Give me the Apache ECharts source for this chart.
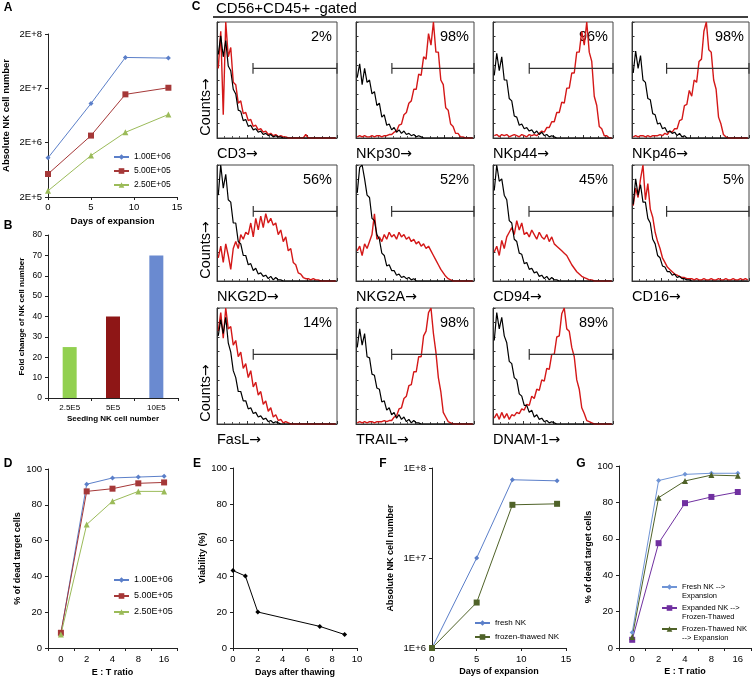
<!DOCTYPE html>
<html><head><meta charset="utf-8">
<script src="https://cdn.jsdelivr.net/npm/echarts@6/dist/echarts.min.js"></script>
<style>html,body{margin:0;padding:0;background:#fff}#c{width:752px;height:681px}</style>
</head><body><div id="c"></div>
<script>
// ---------- Panel A ----------
const daysA = [0, 5, 9, 14];
const a_1e6 = [1.05e6, 1.05e7, 7.4e7, 7.2e7];
const a_5e5 = [5.3e5, 2.7e6, 1.55e7, 2.05e7];
const a_25e5 = [2.6e5, 1.16e6, 3.1e6, 6.6e6];
const seedNames = ['1.00E+06', '5.00E+05', '2.50E+05'];
// ---------- Panel B ----------
const seedLabels = ['2.5E5', '5E5', '10E5'];
const foldChange = [25, 40, 70];
// ---------- Panel D ----------
const etLabels = ['0', '2', '4', '8', '16'];
const d_1e6 = [8, 91.5, 95, 95.5, 96];
const d_5e5 = [8.5, 87.5, 89, 92, 92.5];
const d_25e5 = [7.5, 69, 82, 87.5, 87.5];
// ---------- Panel E ----------
const daysE = [0, 1, 2, 7, 9];
const viability = [43, 40, 20, 12, 7.5];
// ---------- Panel F ----------
const daysF = [0, 5, 9, 14];
const f_fresh = [1e6, 1e7, 7.4e7, 7.2e7];
const f_frozen = [1e6, 3.2e6, 3.9e7, 4.0e7];
// ---------- Panel G ----------
const g_fresh = [8.5, 92, 95.4, 96, 96];
const g_expFrozen = [4.5, 57.6, 79.6, 83, 85.7];
const g_frozenExp = [6, 82.6, 91.8, 95, 94.6];
const gNames = ['Fresh NK -->\nExpansion', 'Expanded NK -->\nFrozen-Thawed', 'Frozen-Thawed NK\n--> Expansion'];
// ---------- Panel C histograms (48 log-channel bins, % of max) ----------
const markerNames = ['CD3', 'NKp30', 'NKp44', 'NKp46', 'NKG2D', 'NKG2A', 'CD94', 'CD16', 'FasL', 'TRAIL', 'DNAM-1'];
const markerPct = ['2%', '98%', '96%', '98%', '56%', '52%', '45%', '5%', '14%', '98%', '89%'];
const gateStart = [14.4, 14.6, 14.5, 14.2, 14.5, 14.5, 14.4, 14.2, 14.5, 14.5, 14.5];
const gateLevel = 60;
const iso_CD3 = [72,88,70,84,62,58,42,38,24,23,15,16, 10,11,7,8,5,6,3,4,2,3,1,2, 1,1,0,0,0,0,0,0,0,0,0,0, 0,0,0,0,0,0,0,0,0,0,0,0];
const stain_CD3 = [60,92,20,100,70,78,48,46,30,32,21,22, 15,16,10,11,7,8,5,6,3,4,2,3, 1,2,1,1,0,0,0,0,0,0,0,3, 0,0,0,0,0,0,0,0,0,0,0,0];
const iso_NKp30 = [52,64,46,60,48,50,38,40,28,30,18,20, 11,12,7,9,5,7,4,6,3,4,2,3, 1,2,1,0,0,0,0,0,0,0,0,0, 0,0,0,0,0,0,0,0,0,0,0,0];
const stain_NKp30 = [1,2,1,2,1,1,2,1,2,2,1,2, 2,3,3,5,6,11,12,20,22,30,32,42, 42,55,54,70,68,90,80,100,74,74,50,46, 26,24,12,10,4,4,1,1,0,0,0,0];
const iso_NKp44 = [54,73,58,70,50,50,34,32,19,18,11,12, 8,9,6,7,4,6,3,5,2,3,1,2, 1,0,0,0,0,0,0,0,0,0,0,0, 0,0,0,0,0,0,0,0,0,0,0,0];
const stain_NKp44 = [2,3,1,3,2,3,1,2,3,2,1,3, 2,1,3,2,3,2,4,6,5,9,9,14, 14,22,22,31,30,43,43,56,56,74,74,92, 80,100,74,66,36,28,10,8,2,2,0,0];
const iso_NKp46 = [56,75,60,71,50,48,34,33,21,20,12,13, 8,9,5,6,4,5,2,4,1,2,0,0, 0,0,0,0,0,0,0,0,0,0,0,0, 0,0,0,0,0,0,0,0,0,0,0,0];
const stain_NKp46 = [1,2,1,2,2,1,2,1,2,2,2,3, 2,4,3,6,5,8,8,15,16,28,29,41, 36,50,48,66,68,92,100,76,74,50,42,18, 12,3,1,0,0,0,0,0,0,0,0,0];
const iso_NKG2D = [74,100,80,92,70,68,50,50,34,32,22,22, 14,15,9,11,6,7,4,5,2,4,1,3, 1,1,0,0,0,0,0,0,0,0,0,0, 0,0,0,0,0,0,0,0,0,0,0,0];
const stain_NKG2D = [20,30,16,32,22,10,28,34,28,40,36,42, 40,50,38,54,44,56,46,58,50,54,48,50, 40,44,34,38,26,28,16,14,7,6,3,2, 2,1,2,1,1,0,0,0,0,0,0,0];
const iso_NKG2A = [76,98,100,88,74,72,54,52,40,36,24,22, 13,14,9,9,5,6,3,4,2,3,1,2, 0,0,0,0,0,0,0,0,0,0,0,0, 0,0,0,0,0,0,0,0,0,0,0,0];
const stain_NKG2A = [26,30,22,32,28,34,40,58,36,38,34,40, 36,42,38,40,36,42,38,40,36,38,34,36, 32,34,30,32,28,30,26,22,18,14,10,7, 4,2,1,0,0,0,0,0,0,0,0,0];
const iso_CD94 = [78,100,86,88,74,70,52,50,36,34,24,23, 15,16,10,11,7,8,4,5,2,4,1,3, 1,1,0,0,0,0,0,0,0,0,0,0, 0,0,0,0,0,0,0,0,0,0,0,0];
const stain_CD94 = [25,30,22,35,28,38,42,46,40,52,44,50, 40,42,38,44,40,36,42,38,36,40,34,38, 32,30,28,26,24,22,18,14,11,8,6,4, 3,2,1,1,0,0,0,0,0,0,0,0];
const iso_CD16 = [66,88,74,83,68,68,54,50,36,32,22,20, 13,12,8,8,5,6,3,4,2,2,1,1, 0,0,0,0,0,0,0,0,0,0,0,0, 0,0,0,0,0,0,0,0,0,0,0,0];
const stain_CD16 = [65,80,72,88,100,70,84,62,55,42,34,28, 20,16,12,10,8,6,5,4,3,3,2,2, 2,1,2,1,1,2,1,1,2,1,1,2, 1,1,2,1,1,2,1,1,2,1,2,1];
const iso_FasL = [76,90,78,92,70,62,46,40,28,28,20,20, 13,14,9,10,6,7,4,5,2,3,1,2, 1,0,0,0,0,0,0,0,0,0,0,0, 0,0,0,0,0,0,0,0,0,0,0,0];
const stain_FasL = [80,96,74,100,82,84,68,72,58,62,48,52, 40,46,32,36,25,28,17,20,11,14,6,8, 3,4,1,2,1,0,0,0,0,0,0,0, 0,0,0,0,0,0,0,0,0,0,0,0];
const iso_TRAIL = [66,82,68,78,58,57,43,42,31,30,19,20, 12,14,8,10,5,8,4,6,2,4,1,3, 1,1,0,0,0,0,0,0,0,0,0,0, 0,0,0,0,0,0,0,0,0,0,0,0];
const stain_TRAIL = [1,2,1,2,1,2,2,1,2,2,2,3, 2,3,3,6,7,13,14,22,24,33,34,45, 45,58,58,76,80,96,100,78,62,40,28,10, 6,2,1,0,0,0,0,0,0,0,0,0];
const iso_DNAM1 = [72,96,82,92,76,70,54,52,40,38,26,24, 16,16,10,12,6,8,4,5,2,3,1,2, 1,0,0,0,0,0,0,0,0,0,0,0, 0,0,0,0,0,0,0,0,0,0,0,0];
const stain_DNAM1 = [5,9,4,10,5,9,4,8,7,10,9,13, 12,17,16,24,22,30,29,38,37,48,47,60, 60,75,76,95,100,82,80,66,58,38,30,14, 9,3,2,1,0,0,0,0,0,0,0,0];
const isoList = [iso_CD3, iso_NKp30, iso_NKp44, iso_NKp46, iso_NKG2D, iso_NKG2A, iso_CD94, iso_CD16, iso_FasL, iso_TRAIL, iso_DNAM1];
const stainList = [stain_CD3, stain_NKp30, stain_NKp44, stain_NKp46, stain_NKG2D, stain_NKG2A, stain_CD94, stain_CD16, stain_FasL, stain_TRAIL, stain_DNAM1];

// ---------- build ----------
const FF = '"Liberation Sans", Arial, Helvetica, sans-serif';
const AX = '#222';
const C_BLUE = '#5B7FC9', C_RED = '#A53838', C_GREEN = '#9BBB59', C_OLIVE = '#4F6228', C_PURPLE = '#7030A0';
const grid = [], xAxis = [], yAxis = [], series = [], legend = [], graphic = [];

function isObj(o){ return o && typeof o === 'object' && !Array.isArray(o); }
function merge(a, b){ for (const k in b){ if (isObj(b[k]) && isObj(a[k])) merge(a[k], b[k]); else a[k] = b[k]; } return a; }
function axis(o){
  return merge({
    axisLine: {show: true, onZero: false, lineStyle: {color: AX, width: 1}},
    axisTick: {show: true, length: 3, lineStyle: {color: AX}},
    axisLabel: {show: true, fontSize: 9.5, color: '#000', fontFamily: FF},
    splitLine: {show: false},
    nameLocation: 'middle',
    nameTextStyle: {fontWeight: 'bold', fontSize: 9, color: '#000', fontFamily: FF}
  }, o);
}
function addGrid(g){ grid.push(g); return grid.length - 1; }
function line(g, name, data, color, symbol, size){
  return {type: 'line', name, xAxisIndex: g, yAxisIndex: g, data, symbol, symbolSize: size,
    showSymbol: true, lineStyle: {color, width: 1}, itemStyle: {color}, emphasis: {disabled: true}, silent: true};
}
function txt(x, y, text, font, align, vAlign, rot){
  const el = {type: 'text', x, y, silent: true, style: {text, fill: '#000', font, align: align || 'left', verticalAlign: vAlign || 'middle'}};
  if (rot) el.rotation = rot;
  graphic.push(el);
}
function arrowTxt(x, y, label, align, rot){
  const el = {type: 'text', x, y, silent: true, style: {
    text: '{a|' + label + '}{b|\u2192}', fill: '#000', align: align, verticalAlign: 'middle',
    rich: {a: {fontSize: 14.5, fontFamily: FF, fill: '#000'}, b: {fontSize: 14, fontFamily: '"DejaVu Sans", sans-serif', fill: '#000'}}}};
  if (rot) el.rotation = rot;
  graphic.push(el);
}
const log2e5 = v => Math.log10(v / 2e5);
const legBase = {orient: 'vertical', padding: 0, itemWidth: 15, itemHeight: 7, selectedMode: false};

// Panel A
const gA = addGrid({left: 48, top: 34, width: 129, height: 163});
xAxis.push(axis({gridIndex: gA, type: 'value', min: 0, max: 15, interval: 5, name: 'Days of expansion', nameGap: 19, nameTextStyle: {fontSize: 9.5}, axisLabel: {margin: 5}}));
yAxis.push(axis({gridIndex: gA, type: 'value', min: 0, max: 3, interval: 1, name: 'Absolute NK cell number', nameGap: 37, nameTextStyle: {fontSize: 9.5}, axisLabel: {margin: 6, formatter: v => '2E+' + (v + 5)}}));
series.push(line(gA, seedNames[0], daysA.map((d, i) => [d, log2e5(a_1e6[i])]), C_BLUE, 'diamond', 5));
series.push(line(gA, seedNames[1], daysA.map((d, i) => [d, log2e5(a_5e5[i])]), C_RED, 'rect', 6));
series.push(line(gA, seedNames[2], daysA.map((d, i) => [d, log2e5(a_25e5[i])]), C_GREEN, 'triangle', 6));
legend.push(merge({left: 113, top: 152, itemGap: 4, textStyle: {fontSize: 8.5, lineHeight: 10, color: '#000', fontFamily: FF}, data: seedNames}, legBase));

// Panel B
const gB = addGrid({left: 48, top: 235, width: 130, height: 163});
xAxis.push(axis({gridIndex: gB, type: 'category', data: seedLabels, name: 'Seeding NK cell number', nameGap: 17, nameTextStyle: {fontSize: 8}, axisLabel: {fontSize: 8, margin: 6}}));
yAxis.push(axis({gridIndex: gB, type: 'value', min: 0, max: 80, interval: 10, name: 'Fold change of NK cell number', nameGap: 22, nameTextStyle: {fontSize: 8}, axisLabel: {fontSize: 8.5, margin: 6}}));
const barColors = ['#92D050', '#8E1616', '#6A8AD0'];
series.push({type: 'bar', xAxisIndex: gB, yAxisIndex: gB, barWidth: 14, silent: true,
  data: foldChange.map((v, i) => ({value: v, itemStyle: {color: barColors[i]}}))});

// Panel D
const gD = addGrid({left: 48, top: 469, width: 129, height: 179});
xAxis.push(axis({gridIndex: gD, type: 'category', data: etLabels, name: 'E : T ratio', nameGap: 20, axisLabel: {margin: 6}}));
yAxis.push(axis({gridIndex: gD, type: 'value', min: 0, max: 100, interval: 20, name: '% of dead target cells', nameGap: 22, axisLabel: {margin: 6}}));
series.push(line(gD, seedNames[0], d_1e6, C_BLUE, 'diamond', 5));
series.push(line(gD, seedNames[1], d_5e5, C_RED, 'rect', 6));
series.push(line(gD, seedNames[2], d_25e5, C_GREEN, 'triangle', 6));
legend.push(merge({left: 113, top: 575, itemGap: 6, textStyle: {fontSize: 9, lineHeight: 10, color: '#000', fontFamily: FF}, data: seedNames}, legBase));

// Panel E
const gE = addGrid({left: 233, top: 468, width: 124, height: 180});
xAxis.push(axis({gridIndex: gE, type: 'value', min: 0, max: 10, interval: 2, name: 'Days after thawing', nameGap: 20, axisLabel: {margin: 6}}));
yAxis.push(axis({gridIndex: gE, type: 'value', min: 0, max: 100, interval: 20, name: 'Viability (%)', nameGap: 26, axisLabel: {margin: 6}}));
series.push(line(gE, 'viability', daysE.map((d, i) => [d, viability[i]]), '#000', 'diamond', 5));

// Panel F
const gF = addGrid({left: 432, top: 468, width: 134, height: 180});
xAxis.push(axis({gridIndex: gF, type: 'value', min: 0, max: 15, interval: 5, name: 'Days of expansion', nameGap: 19, axisLabel: {margin: 6}}));
yAxis.push(axis({gridIndex: gF, type: 'log', logBase: 10, min: 1e6, max: 1e8, name: 'Absolute NK cell number', nameGap: 37, axisLabel: {margin: 6, formatter: v => '1E+' + Math.round(Math.log10(v))}}));
series.push(line(gF, 'fresh NK', daysF.map((d, i) => [d, f_fresh[i]]), C_BLUE, 'diamond', 5));
series.push(line(gF, 'frozen-thawed NK', daysF.map((d, i) => [d, f_frozen[i]]), C_OLIVE, 'rect', 6));
legend.push(merge({left: 474, top: 618, itemWidth: 16, itemGap: 4, textStyle: {fontSize: 8, lineHeight: 10, color: '#000', fontFamily: FF}, data: ['fresh NK', 'frozen-thawed NK']}, legBase));

// Panel G
const gG = addGrid({left: 619, top: 466, width: 132, height: 182});
xAxis.push(axis({gridIndex: gG, type: 'category', data: etLabels, name: 'E : T ratio', nameGap: 19, axisLabel: {margin: 6}}));
yAxis.push(axis({gridIndex: gG, type: 'value', min: 0, max: 100, interval: 20, name: '% of dead target cells', nameGap: 24, axisLabel: {margin: 6}}));
series.push(line(gG, gNames[0], g_fresh, '#6F94D6', 'diamond', 5));
series.push(line(gG, gNames[1], g_expFrozen, C_PURPLE, 'rect', 6));
series.push(line(gG, gNames[2], g_frozenExp, C_OLIVE, 'triangle', 6));
const gLegTop = [573.5, 594.5, 615.5];
gNames.forEach((n, i) => legend.push(merge({left: 661, top: gLegTop[i], itemWidth: 13,
  formatter: nm => '\u00a0\n' + nm, textStyle: {fontSize: 7.5, lineHeight: 9, color: '#000', fontFamily: FF}, data: [n]}, legBase)));

// Panel C histograms
const colL = [217, 356, 493, 632], colW = [120, 118, 120, 117], rowT = [22, 165, 308], boxH = 116;
const F14 = '14.5px ' + FF;
markerNames.forEach((m, k) => {
  const r = Math.floor(k / 4), c = k % 4;
  const g = addGrid({left: colL[c], top: rowT[r], width: colW[c], height: boxH, show: true, borderColor: '#444', borderWidth: 1, backgroundColor: 'transparent'});
  xAxis.push({gridIndex: g, type: 'value', min: 0, max: 48, interval: 12,
    axisLine: {show: true, onZero: false, lineStyle: {color: '#333', width: 1}},
    axisTick: {show: true, inside: true, length: 3, lineStyle: {color: '#333'}},
    minorTick: {show: true, splitNumber: 4, length: 2, lineStyle: {color: '#555'}},
    axisLabel: {show: false}, splitLine: {show: false}});
  yAxis.push({gridIndex: g, type: 'value', min: 0, max: 100, interval: 12.5,
    axisLine: {show: true, onZero: false, lineStyle: {color: '#333', width: 1}},
    axisTick: {show: true, inside: true, length: 2.5, lineStyle: {color: '#333'}},
    axisLabel: {show: false}, splitLine: {show: false}});
  series.push({type: 'line', xAxisIndex: g, yAxisIndex: g, silent: true, symbol: 'none', z: 3,
    data: stainList[k].map((v, i) => [i + 0.5, v]), lineStyle: {color: '#D41818', width: 1.4}});
  series.push({type: 'line', xAxisIndex: g, yAxisIndex: g, silent: true, symbol: 'none', z: 4,
    data: isoList[k].map((v, i) => [i + 0.5, v]), lineStyle: {color: '#000', width: 1.2}});
  const gs = gateStart[k];
  series.push({type: 'line', xAxisIndex: g, yAxisIndex: g, silent: true, symbol: 'none', z: 5,
    data: [[gs, gateLevel + 4.7], [gs, gateLevel - 4.7], [gs, gateLevel], [48, gateLevel], [48, gateLevel + 4.7], [48, gateLevel - 4.7]],
    lineStyle: {color: '#333', width: 1.2}});
  txt(colL[c] + colW[c] - 5, rowT[r] + 15, markerPct[k], F14, 'right', 'middle');
  arrowTxt(colL[c], rowT[r] + boxH + 16, m, 'left');
  if (c === 0) arrowTxt(206, rowT[r] + 85, 'Counts', 'center', Math.PI / 2);
});

// panel letters & header
const LB = 'bold 12px ' + FF;
txt(8, 8, 'A', LB, 'center'); txt(8, 226, 'B', LB, 'center'); txt(196, 7, 'C', LB, 'center');
txt(8, 464, 'D', LB, 'center'); txt(197, 464, 'E', LB, 'center'); txt(383, 464, 'F', LB, 'center'); txt(581, 464, 'G', LB, 'center');
txt(216, 8.5, 'CD56+CD45+ -gated', '15px ' + FF, 'left', 'middle');
graphic.push({type: 'line', silent: true, shape: {x1: 213, y1: 17, x2: 748, y2: 17}, style: {stroke: '#000', lineWidth: 1.5}});

const chart = echarts.init(document.getElementById('c'), null, {renderer: 'canvas'});
chart.setOption({animation: false, backgroundColor: '#fff', textStyle: {fontFamily: FF},
  grid, xAxis, yAxis, series, legend, graphic, tooltip: {show: false}});
</script></body></html>
